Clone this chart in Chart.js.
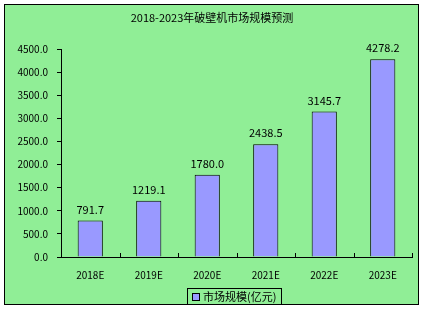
<!DOCTYPE html>
<html>
<head>
<meta charset="utf-8">
<script src="https://cdn.jsdelivr.net/npm/chart.js@4"></script>
<style>
html,body{margin:0;padding:0;background:#fff;}
#wrap{width:422px;height:311px;}
</style>
</head>
<body>
<div id="wrap"><canvas id="c" width="422" height="311"></canvas></div>
<script>
const chartTitle = '2018-2023年破壁机市场规模预测';
const categories = ['2018E','2019E','2020E','2021E','2022E','2023E'];
const seriesName = '市场规模(亿元)';
const seriesValues = [791.7, 1219.1, 1780.0, 2438.5, 3145.7, 4278.2];
const yTicks = [0, 500, 1000, 1500, 2000, 2500, 3000, 3500, 4000, 4500];

const FONT = '"Noto Sans CJK SC", "Liberation Sans", sans-serif';
const GREEN = 'rgb(144,238,150)';
const BAR = 'rgb(153,153,255)';

const framePlugin = {
  id: 'frame',
  beforeDraw(chart) {
    const ctx = chart.ctx;
    ctx.save();
    ctx.fillStyle = '#fff';
    ctx.fillRect(0, 0, chart.width, chart.height);
    ctx.fillStyle = GREEN;
    ctx.fillRect(4, 4, 414, 301);
    ctx.strokeStyle = '#000';
    ctx.lineWidth = 1;
    ctx.strokeRect(4.5, 4.5, 414, 300);
    // title
    ctx.fillStyle = '#000';
    ctx.font = '11px ' + FONT;
    ctx.textAlign = 'center';
    ctx.textBaseline = 'middle';
    ctx.fillText(chartTitle, 212, 18);
    ctx.restore();
  },
  afterDatasetsDraw(chart) {
    const ctx = chart.ctx;
    const xs = chart.scales.x;
    ctx.save();
    // inward x ticks at category boundaries
    ctx.strokeStyle = '#000';
    ctx.lineWidth = 1;
    const yb = Math.round(chart.chartArea.bottom);
    for (let i = 1; i <= categories.length; i++) {
      const px = Math.round(xs.getPixelForValue(i - 0.5)) + 0.5;
      ctx.beginPath();
      ctx.moveTo(px, yb);
      ctx.lineTo(px, yb - 4);
      ctx.stroke();
    }
    // value labels
    ctx.fillStyle = '#000';
    ctx.font = '11px ' + FONT;
    ctx.textAlign = 'center';
    ctx.textBaseline = 'middle';
    const meta = chart.getDatasetMeta(0);
    meta.data.forEach((el, i) => {
      ctx.fillText(seriesValues[i].toFixed(1), el.x, el.y - 11);
    });
    // legend
    const lx = 187, ly = 288, lw = 94, lh = 16;
    ctx.strokeRect(lx + 0.5, ly + 0.5, lw, lh);
    ctx.fillStyle = BAR;
    ctx.fillRect(lx + 5, ly + 5, 7, 7);
    ctx.strokeRect(lx + 5.5, ly + 5.5, 7, 7);
    ctx.fillStyle = '#000';
    ctx.textAlign = 'left';
    ctx.fillText(seriesName, lx + 16, ly + 9);
    ctx.restore();
  }
};

new Chart(document.getElementById('c'), {
  type: 'bar',
  data: {
    labels: categories,
    datasets: [{
      label: seriesName,
      data: seriesValues,
      backgroundColor: BAR,
      borderColor: '#000',
      borderWidth: 1,
      categoryPercentage: 1,
      barPercentage: 0.43
    }]
  },
  options: {
    responsive: false,
    animation: false,
    devicePixelRatio: 1,
    layout: { padding: { top: 49, right: 10, bottom: 32, left: 0 } },
    plugins: { legend: { display: false }, title: { display: false }, tooltip: { enabled: false } },
    scales: {
      x: {
        offset: true,
        grid: { display: false },
        border: { display: true, color: '#000', width: 1 },
        ticks: { color: '#000', font: { family: FONT, size: 10 }, padding: 4, maxRotation: 0 },
        afterFit(s) { s.height = 22; }
      },
      y: {
        min: 0, max: 4500,
        afterBuildTicks(s) { s.ticks = yTicks.map(v => ({ value: v })); },
        grid: { display: true, drawOnChartArea: false, drawTicks: true, tickLength: 4, color: '#000' },
        border: { display: true, color: '#000', width: 1 },
        ticks: { color: '#000', font: { family: FONT, size: 10 }, padding: 9, callback: v => Number(v).toFixed(1) },
        afterFit(s) { s.width = 61; }
      }
    }
  },
  plugins: [framePlugin]
});
</script>
</body>
</html>
